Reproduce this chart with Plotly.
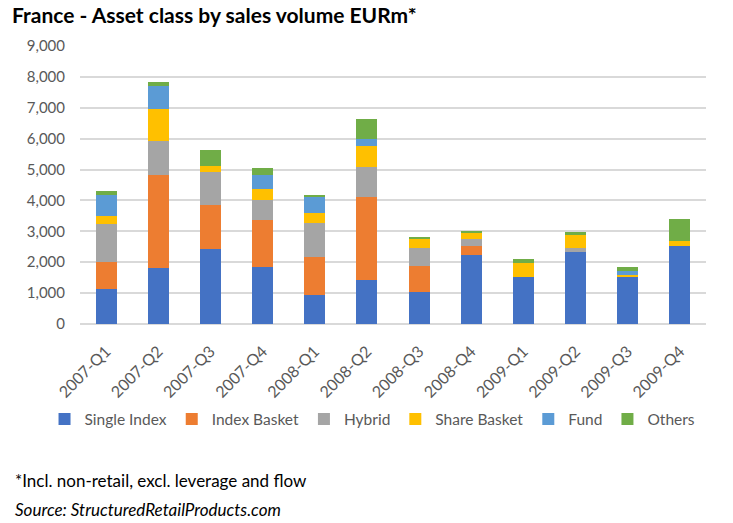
import plotly.graph_objects as go

quarters = ["2007-Q1", "2007-Q2", "2007-Q3", "2007-Q4", "2008-Q1", "2008-Q2",
            "2008-Q3", "2008-Q4", "2009-Q1", "2009-Q2", "2009-Q3", "2009-Q4"]
single_index = [1130, 1810, 2420, 1860, 925, 1430, 1020, 2240, 1530, 2340, 1510, 2535]
index_basket = [870, 3000, 1420, 1495, 1230, 2690, 850, 300, 0, 0, 0, 0]
hybrid = [1250, 1100, 1085, 665, 1120, 960, 600, 215, 0, 130, 0, 0]
share_basket = [240, 1065, 195, 365, 320, 680, 300, 195, 450, 420, 85, 160]
fund = [680, 740, 0, 450, 530, 235, 0, 0, 0, 0, 105, 0]
others = [120, 120, 515, 215, 30, 635, 20, 30, 130, 75, 150, 710]

series = [
    ("Single Index", single_index, "#4472C4"),
    ("Index Basket", index_basket, "#ED7D31"),
    ("Hybrid", hybrid, "#A5A5A5"),
    ("Share Basket", share_basket, "#FFC000"),
    ("Fund", fund, "#5B9BD5"),
    ("Others", others, "#70AD47"),
]

FONT = "Lato"
fig = go.Figure()
for name, vals, col in series:
    fig.add_trace(go.Bar(x=quarters, y=vals, name=name, marker_color=col,
                         marker_line_width=0))

# page body has an 8px margin; figure coordinates = screenshot coordinates - 8
OFF = 8
W, H = 733 - OFF, 523 - OFF
L, R, T, B = 79.5 - OFF, W - (706 - OFF), 46 - OFF, H - (324.5 - OFF)
pw = W - L - R
ph = H - T - B

def px_x(px):
    return (px - OFF - L) / pw

def px_y(py):
    return (H - B - (py - OFF)) / ph

fig.update_layout(
    width=W, height=H,
    margin=dict(l=L, r=R, t=T, b=B, autoexpand=False),
    paper_bgcolor="white", plot_bgcolor="white",
    barmode="stack", bargap=0.6,
    font=dict(family=FONT, color="#595959", size=15),
    title=dict(text="<b>France - Asset class by sales volume EURm*</b>",
               font=dict(family=FONT, size=21, color="#000000"),
               xref="container", yref="container", x=(12 - OFF) / W, xanchor="left",
               y=1, yanchor="top", pad=dict(t=0)),
    showlegend=True,
    legend=dict(orientation="h", xref="paper", yref="paper",
                x=px_x(44), xanchor="left",
                y=px_y(420), yanchor="middle",
                font=dict(family=FONT, size=15.5, color="#595959"),
                itemwidth=30, traceorder="normal", tracegroupgap=0),
    xaxis=dict(tickangle=-45, showgrid=False, showline=False, ticks="",
               automargin=False, ticklabelstandoff=14,
               tickfont=dict(family=FONT, size=16, color="#595959")),
    yaxis=dict(range=[0, 9000], dtick=1000, tickformat=",", showgrid=True,
               gridcolor="#D9D9D9", gridwidth=1.5, zeroline=True,
               zerolinecolor="#D9D9D9", zerolinewidth=1.5, showline=False,
               ticks="", ticklabelstandoff=14, automargin=False,
               tickfont=dict(family=FONT, size=15, color="#595959")),
    annotations=[
        dict(text="*Incl. non-retail, excl. leverage and flow", xref="paper", yref="paper",
             x=px_x(12), y=px_y(481), xanchor="left", yanchor="middle", showarrow=False,
             font=dict(family=FONT, size=17, color="#000000")),
        dict(text="<i>Source: StructuredRetailProducts.com</i>", xref="paper", yref="paper",
             x=px_x(12), y=px_y(510), xanchor="left", yanchor="middle", showarrow=False,
             font=dict(family=FONT, size=17, color="#000000")),
    ],
)

fig.write_html("out.html")
